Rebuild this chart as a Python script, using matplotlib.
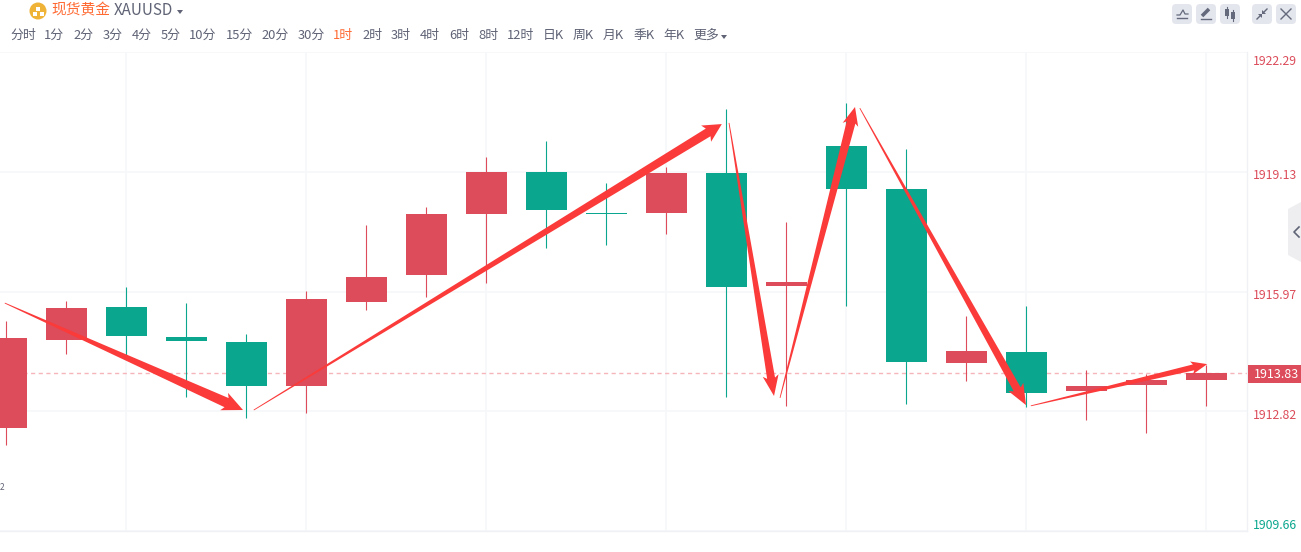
import numpy as np
import matplotlib
matplotlib.use('Agg')
from matplotlib import pyplot as plt
from matplotlib.patches import Polygon, Circle, FancyBboxPatch
from matplotlib.transforms import ScaledTranslation, IdentityTransform

plt.rcParams['font.family'] = ['Noto Sans CJK SC', 'DejaVu Sans']

# Candles, oldest first
opens = [1912.38, 1914.70, 1915.57, 1914.78, 1914.64, 1913.48, 1915.70, 1916.41, 1918.02, 1919.13, 1918.05,
         1918.05, 1919.10, 1916.12, 1919.81, 1918.68, 1914.09, 1914.38, 1913.35, 1913.51, 1913.64]
closes = [1914.75, 1915.54, 1914.80, 1914.67, 1913.48, 1915.78, 1916.36, 1918.02, 1919.13, 1918.13, 1918.02,
          1919.10, 1916.09, 1916.23, 1918.68, 1914.12, 1914.41, 1913.30, 1913.48, 1913.64, 1913.83]
highs = [1915.20, 1915.73, 1916.09, 1915.67, 1914.85, 1915.99, 1917.73, 1918.20, 1919.52, 1919.94, 1918.84,
         1919.26, 1920.79, 1917.81, 1920.95, 1919.73, 1915.33, 1915.59, 1913.91, 1913.80, 1914.04]
lows = [1911.93, 1914.33, 1914.27, 1913.19, 1912.64, 1912.77, 1915.49, 1915.83, 1916.20, 1917.12, 1917.20,
        1917.49, 1913.19, 1912.96, 1915.59, 1913.01, 1913.62, 1912.93, 1912.59, 1912.24, 1912.96]

price_ticks = [1922.29, 1919.13, 1915.97, 1912.82, 1909.66]
last_price = 1913.83
grid_candles = [2, 5, 8, 11, 14, 17, 20]

# Hand drawn arrows: start index, start price, end index, end price, shaft px, head width px, head length px
arrow_x0 = [-0.02, 4.13, 12.05, 12.90, 14.23, 17.08]
arrow_y0 = [1915.67, 1912.85, 1920.42, 1913.17, 1920.81, 1912.96]
arrow_x1 = [3.95, 11.93, 12.80, 14.15, 17.00, 20.02]
arrow_y1 = [1912.85, 1920.39, 1913.22, 1920.84, 1912.98, 1914.06]
arrow_shaft = [10, 9, 8, 9, 8, 6]
arrow_head = [19, 19, 16, 16, 17, 13]
arrow_len = [18, 16, 18, 16, 18, 14]

periods = ['分时', '1分', '2分', '3分', '4分', '5分', '10分', '15分', '20分', '30分', '1时', '2时', '3时',
           '4时', '6时', '8时', '12时', '日K', '周K', '月K', '季K', '年K', '更多']
period_x = [23, 54, 83, 113, 142, 171, 203, 239, 275, 311, 343, 372, 401, 430, 459, 488, 520, 553, 583, 613,
            644, 674, 706]

RED = '#dc4c5a'
GREEN = '#0aa68d'
ARROW = '#fb3a3a'
GRID = '#f6f7f9'
GREY = '#5f6375'
ORANGE = '#ff6a33'
W, H = 1301, 552

fig = plt.figure(figsize=(W / 100, H / 100), dpi=100, facecolor='white')
ax = fig.add_axes([0, (H - 531) / H, 1247 / W, 479 / H])
ax.set_xlim(-0.1, 20.683)
ax.set_ylim(1909.66, 1922.29)

for s in ['top', 'left']:
    ax.spines[s].set_visible(False)
for s in ['right', 'bottom']:
    ax.spines[s].set_color('#f0f1f4')
    ax.spines[s].set_linewidth(1)

ax.set_xticks(grid_candles)
ax.set_xticklabels([])
ax.tick_params(axis='x', length=0)
ax.yaxis.tick_right()
ax.set_yticks(price_ticks)
ax.set_yticklabels(['%.2f' % p for p in price_ticks])
ax.tick_params(axis='y', length=0, pad=4.5, labelsize=8.8)
ax.grid(True, color=GRID, linewidth=1.2)
ax.set_axisbelow(True)

# tick labels sit a bit lower than their grid lines, the end ones inside the plot
shifts = [-8, -2, -2, -3, 7]
for lab, sh, p in zip(ax.get_yticklabels(), shifts, price_ticks):
    lab.set_color(GREEN if p == price_ticks[-1] else RED)
    lab.set_transform(lab.get_transform() + ScaledTranslation(0, sh / 100, fig.dpi_scale_trans))

ax.axhline(last_price, color='#f6b4bb', linewidth=1, linestyle=(0, (3, 2.5)), zorder=1)

for i in range(len(opens)):
    col = RED if closes[i] > opens[i] else GREEN
    ax.vlines(i, lows[i], highs[i], color=col, linewidth=0.8, zorder=2)
    ax.bar(i, abs(closes[i] - opens[i]), bottom=min(opens[i], closes[i]), width=41 / 60, color=col,
           linewidth=0, zorder=3)

# arrows are tapered: a point at the start growing to the shaft width at the head
for k in range(len(arrow_x0)):
    p0 = ax.transData.transform((arrow_x0[k], arrow_y0[k]))
    p1 = ax.transData.transform((arrow_x1[k], arrow_y1[k]))
    d = (p1 - p0) / np.hypot(*(p1 - p0))
    n = np.array([-d[1], d[0]])
    base = p1 - d * arrow_len[k]
    barb = p1 - d * arrow_len[k] * 1.15
    pts = [p0 + n * 0.4, base + n * arrow_shaft[k] / 2, barb + n * arrow_head[k] / 2, p1,
           barb - n * arrow_head[k] / 2, base - n * arrow_shaft[k] / 2, p0 - n * 0.4]
    ax.add_patch(Polygon(pts, closed=True, facecolor=ARROW, edgecolor='none', zorder=5,
                         transform=IdentityTransform()))

# page furniture around the chart, in pixels
ui = fig.add_axes([0, 0, 1, 1], facecolor='none')
ui.set_xlim(0, W)
ui.set_ylim(H, 0)
ui.axis('off')

ui.add_patch(Circle((38, 11), 8.5, facecolor='#efb338', edgecolor='none'))
for bx, by in [(36, 6.5), (32.5, 12), (39.5, 12)]:
    ui.fill([bx, bx + 4, bx + 4, bx], [by, by, by + 4, by + 4], color='white', linewidth=0)
ui.text(51, 10.5, '现货黄金', color=ORANGE, fontsize=10.6, va='center', ha='left')
ui.text(114, 10.5, 'XAUUSD', color=GREY, fontsize=10.9, va='center', ha='left')
ui.fill([177, 183, 180], [10, 10, 14], color=GREY, linewidth=0)

for lab, x in zip(periods, period_x):
    ui.text(x, 35, lab, color=ORANGE if lab == '1时' else GREY, fontsize=9.3, va='center', ha='center')
ui.fill([721, 727, 724], [35, 35, 39], color=GREY, linewidth=0)

# toolbar buttons
for bx in [1172, 1196, 1220, 1252, 1276]:
    ui.add_patch(FancyBboxPatch((bx + 2, 6), 16, 16, boxstyle='round,pad=2,rounding_size=4',
                                facecolor='#e4e6ee', edgecolor='none'))
ic = '#646a7c'
ui.plot([1177, 1180, 1183, 1185, 1188], [15, 15, 10, 14, 14], color=ic, linewidth=0.9)
ui.plot([1177, 1187], [18, 18], color=ic, linewidth=1)
ui.plot([1202, 1209], [16, 9], color=ic, linewidth=2.6, solid_capstyle='butt')
ui.plot([1201, 1211], [18.5, 18.5], color=ic, linewidth=1)
for cx, top, bot in [(1227, 9, 16), (1233, 12, 19)]:
    ui.plot([cx, cx], [top - 2, bot + 2], color=ic, linewidth=0.8)
    ui.fill([cx - 2, cx + 2, cx + 2, cx - 2], [top, top, bot, bot], color=ic, linewidth=0)
ui.plot([1257, 1261], [19, 15], color=ic, linewidth=1)
ui.plot([1263, 1267], [13, 9], color=ic, linewidth=1)
ui.fill([1258, 1262, 1262], [14, 14, 18], color=ic, linewidth=0)
ui.fill([1262, 1266, 1262], [10, 14, 14], color=ic, linewidth=0)
ui.plot([1281, 1291], [9, 19], color=ic, linewidth=1)
ui.plot([1281, 1291], [19, 9], color=ic, linewidth=1)

# collapsed side panel tab
ui.fill([1301, 1288, 1288, 1301], [202, 209, 255, 262], color='#eeeef1', linewidth=0)
ui.plot([1299, 1294, 1299], [227, 232, 237], color=GREY, linewidth=1.2)

# last price tag
ui.fill([1248, 1301, 1301, 1248], [365, 365, 383, 383], color=RED, linewidth=0)
ui.text(1254, 374.5, '%.2f' % last_price, color='white', fontsize=9, va='center', ha='left')

ui.text(0, 487, '2', color=GREY, fontsize=6, va='center', ha='left')

fig.savefig('out.png', dpi=100, facecolor='white')
